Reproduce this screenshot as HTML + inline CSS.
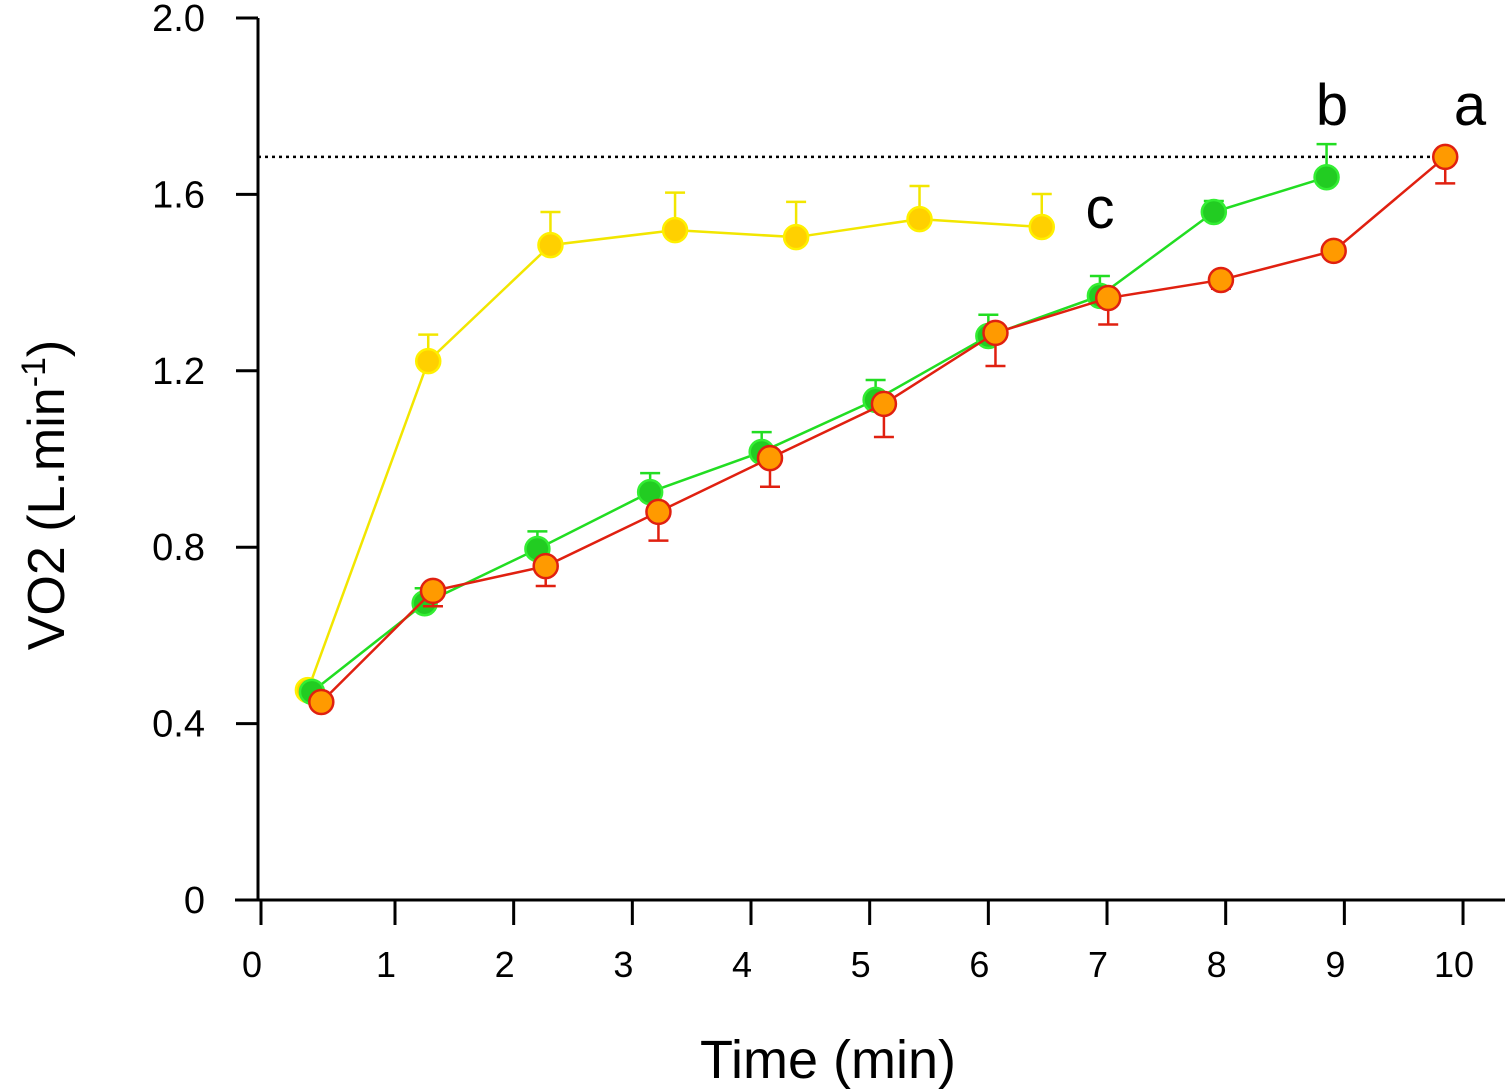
<!DOCTYPE html>
<html><head><meta charset="utf-8"><style>
html,body{margin:0;padding:0;background:#fff;}
svg{display:block;font-family:"Liberation Sans",Helvetica,Arial,sans-serif;}
</style></head><body>
<svg id="chart" width="1511" height="1092" viewBox="0 0 1511 1092" xmlns="http://www.w3.org/2000/svg"></svg>
<script>
const yTicks=[0,0.4,0.8,1.2,1.6,2.0];
const yTickLabels=["0","0.4","0.8","1.2","1.6","2.0"];
const xTicks=[0,1,2,3,4,5,6,7,8,9,10];
const yellowT=[0.35,1.28,2.31,3.36,4.38,5.42,6.45];
const yellowV=[0.476,1.222,1.485,1.519,1.503,1.544,1.526];
const yellowErr=[0,0.06,0.075,0.085,0.08,0.075,0.075];
const greenT=[0.38,1.25,2.2,3.15,4.09,5.05,6.0,6.94,7.9,8.85];
const greenV=[0.472,0.673,0.796,0.925,1.016,1.134,1.279,1.37,1.56,1.639];
const greenErr=[0,0.034,0.04,0.043,0.045,0.045,0.048,0.045,0.025,0.075];
const redT=[0.45,1.32,2.27,3.22,4.16,5.12,6.06,7.01,7.96,8.91,9.85];
const redV=[0.449,0.701,0.757,0.88,1.002,1.125,1.286,1.365,1.406,1.472,1.685];
const redErr=[0,0.035,0.045,0.065,0.065,0.075,0.075,0.06,0.02,0,0.06];
const plateau=1.685;

const NS="http://www.w3.org/2000/svg";
const svg=document.getElementById('chart');
function x(t){return t<1?261+t*134:395+(t-1)*118.67;}
function y(v){return 900-v*441;}
function el(tag,attrs,parent){const e=document.createElementNS(NS,tag);for(const k in attrs)e.setAttribute(k,attrs[k]);(parent||svg).appendChild(e);return e;}

let a=el('line',{x1:258,y1:18,x2:258,y2:900,stroke:'#000','stroke-width':3});


a=el('line',{x1:235,y1:900,x2:1505,y2:900,stroke:'#000','stroke-width':3});


yTicks.forEach((v,i)=>{
  const t=el('line',{x1:236,y1:y(v),x2:258,y2:y(v),stroke:'#000','stroke-width':3});
  
  
  const l=el('text',{x:205,y:y(v)+13,'font-size':38,'text-anchor':'end'});
  l.textContent=yTickLabels[i];
  
  
});
xTicks.forEach(v=>{
  const t=el('line',{x1:x(v),y1:900,x2:x(v),y2:925,stroke:'#000','stroke-width':3});
  
  
  const l=el('text',{x:x(v)-9,y:977,'font-size':36,'text-anchor':'middle'});
  l.textContent=String(v);
  
  
});
let tt=el('text',{x:828,y:1078,'font-size':54,'text-anchor':'middle'});
tt.textContent='Time (min)';


tt=el('text',{x:0,y:0,'font-size':52,'text-anchor':'middle',transform:'translate(64,495) rotate(-90)'});
tt.innerHTML='VO2 (L.min<tspan baseline-shift="super" font-size="34">-1</tspan>)';



let pl=el('line',{x1:258,y1:y(plateau),x2:1445,y2:y(plateau),stroke:'#000','stroke-width':2.5,'stroke-dasharray':'3,4'});



function series(name,T,V,E,dir,line,fill,stroke){
  const g=el('g',{});
  
  
  T.forEach((t,i)=>{ if(E[i]>0){
    const y2=y(V[i]+dir*E[i]);
    const e=el('path',{d:`M${x(t)},${y(V[i])}V${y2}M${x(t)-10},${y2}H${x(t)+10}`,stroke:line,'stroke-width':2.5,fill:'none'},g);
    
    
  }});
  const p=el('polyline',{points:T.map((t,i)=>x(t)+','+y(V[i])).join(' '),fill:'none',stroke:line,'stroke-width':2.5},g);
  
  
  T.forEach((t,i)=>{
    const c=el('circle',{cx:x(t),cy:y(V[i]),r:12,fill:fill,stroke:stroke,'stroke-width':2.5},g);
    
    
  });
}
series('yellow',yellowT,yellowV,yellowErr,1,'#f2e600','#ffd000','#fff000');
series('green',greenT,greenV,greenErr,1,'#22dd22','#22cc22','#33ee33');
series('red',redT,redV,redErr,-1,'#e02010','#ff9a00','#e02010');

[['c',1100,228],['b',1332,125],['a',1470,125]].forEach(d=>{
  const l=el('text',{x:d[1],y:d[2],'font-size':58,'text-anchor':'middle'});
  l.textContent=d[0];
  
  
});
</script>
</body></html>
